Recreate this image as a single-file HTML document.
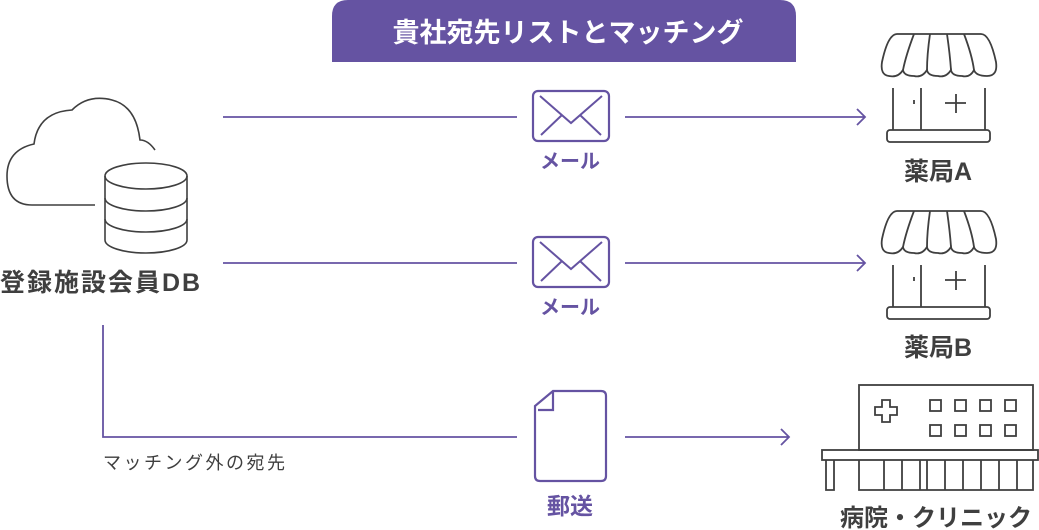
<!DOCTYPE html>
<html><head><meta charset="utf-8"><style>
html,body{margin:0;padding:0;background:#fff;}
svg{display:block;}
text{font-family:"Liberation Sans","Noto Sans CJK JP",sans-serif;}
</style></head><body>
<svg width="1039" height="530" viewBox="0 0 1039 530" xmlns="http://www.w3.org/2000/svg">
<path d="M332 62 V16 Q332 0 348 0 H780 Q796 0 796 16 V62 Z" fill="#6553a2"/>
<text x="568" y="42" font-size="27" font-weight="bold" fill="#fff" text-anchor="middle">貴社宛先リストとマッチング</text>

<g fill="none" stroke="#3f3f3f" stroke-width="1.6">
<path d="M95 205 H32 Q7 205 7 176 Q7 150 34 144 Q38 112 72 110 Q88 94 112 100 Q136 106 140 140 Q148 140 155 150"/>
<ellipse cx="146" cy="176" rx="41" ry="13" fill="#fff"/>
<path d="M105 176 V240 A41 13 0 0 0 187 240 V176"/>
<path d="M105 198 A41 13 0 0 0 187 198"/>
<path d="M105 219 A41 13 0 0 0 187 219"/>
</g>
<text x="0" y="291" font-size="25" font-weight="bold" fill="#3f3f3f" letter-spacing="2">登録施設会員DB</text>

<g stroke="#6553a2" stroke-width="1.8" fill="none">
<path d="M223 117 H517 M625 117 H864 M857 109 L865 117 L857 125"/>
<path d="M223 263 H517 M625 263 H864 M857 255 L865 263 L857 271"/>
<path d="M103 325 V437 H517 M625 437 H789 M781 429 L789 437 L781 445"/>
<rect x="533" y="91" width="76" height="50" rx="5" stroke-width="2.2"/>
<path d="M540 96 L571 123 L602 96 M541 135 L562 115 M601 135 L580 115" stroke-width="2"/>
<rect x="533" y="237" width="76" height="50" rx="5" stroke-width="2.2"/>
<path d="M540 242 L571 269 L602 242 M541 281 L562 261 M601 281 L580 261" stroke-width="2"/>
<path d="M553 391 H601 Q606 391 606 396 V476 Q606 481 601 481 H540 Q535 481 535 476 V406 Z M553 392 V410 H538" stroke-width="2.2"/>
</g>
<g fill="#6553a2" font-weight="bold" text-anchor="middle">
<text x="570" y="168" font-size="20">メール</text>
<text x="570" y="314" font-size="20">メール</text>
<text x="570" y="514" font-size="23">郵送</text>
</g>
<text x="103" y="469" font-size="18" fill="#3f3f3f" letter-spacing="2.5">マッチング外の宛先</text>

<defs>
<g id="shop" fill="none" stroke="#3f3f3f" stroke-width="1.8">
<path d="M897 34 H981 Q990 34 996 62 Q998 76 987 76 Q976 76 974 70 Q970 78 962 76 Q952 76 951 70 Q946 78 938 76 Q928 76 927 70 Q922 78 914 76 Q904 76 903 70 Q898 78 889 76 Q880 75 882 62 Q888 34 897 34 Z"/>
<path d="M914 34 Q906 55 903 70 M930 34 Q927 55 927 70 M947 34 Q950 55 951 70 M964 34 Q972 55 974 70"/>
<path d="M893 88 V130 M921 88 V130 M985 88 V130"/>
<path d="M914 100 V104 M945 103 H966 M956 94 V113"/>
<rect x="887" y="130" width="103" height="12" rx="3"/>
</g>
</defs>
<use href="#shop"/>
<use href="#shop" y="177"/>
<g fill="#3f3f3f" font-weight="bold" text-anchor="middle">
<text x="938" y="180" font-size="25">薬局A</text>
<text x="938" y="356" font-size="25">薬局B</text>
<text x="936" y="526" font-size="24">病院・クリニック</text>
</g>

<g fill="none" stroke="#3f3f3f" stroke-width="1.8">
<rect x="859" y="385" width="174" height="65"/>
<rect x="822" y="450" width="216" height="10"/>
<path d="M826 460 V490 H834 V460"/>
<path d="M859 460 V490 H1033 V460 M884 460 V490 M902 460 V490 M920 460 V490 M927 460 V490 M945 460 V490 M963 460 V490 M981 460 V490 M999 460 V490 M1017 460 V490"/>
<path d="M882 400 H890 V407 H897 V415 H890 V422 H882 V415 H875 V407 H882 Z"/>
<rect x="930" y="400" width="11" height="11"/><rect x="955" y="400" width="11" height="11"/><rect x="980" y="400" width="11" height="11"/><rect x="1005" y="400" width="11" height="11"/>
<rect x="930" y="425" width="11" height="11"/><rect x="955" y="425" width="11" height="11"/><rect x="980" y="425" width="11" height="11"/><rect x="1005" y="425" width="11" height="11"/>
</g>
</svg>
</body></html>
